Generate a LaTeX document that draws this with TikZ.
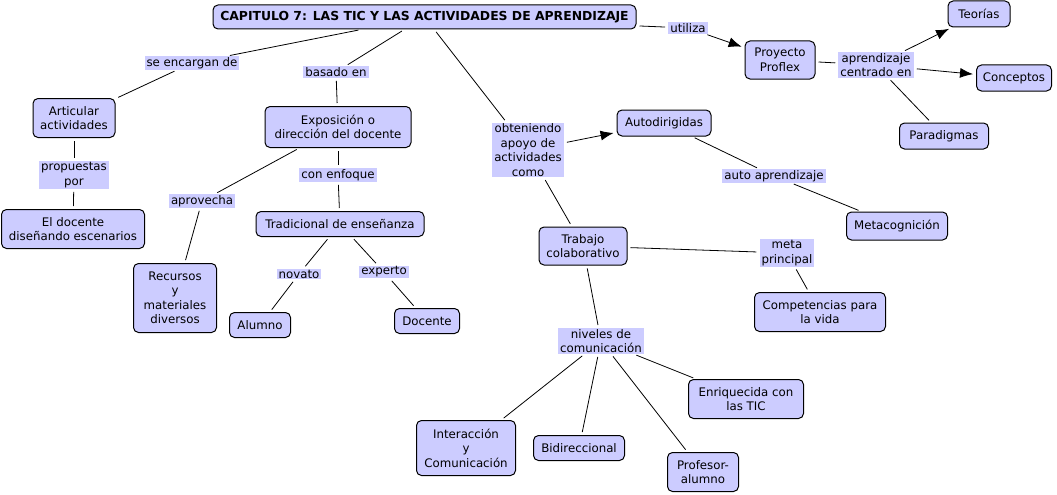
\documentclass[tikz,border=0pt]{standalone}
\usepackage{fontspec}
\setmainfont{DejaVu Sans}
\usetikzlibrary{arrows.meta}
\definecolor{conceptfill}{HTML}{CCCCFF}
\tikzset{
  concept/.style={draw, rounded corners=5pt, fill=conceptfill, align=center, inner sep=0pt, line width=1pt},
  linkword/.style={fill=conceptfill, align=center, inner xsep=2pt, inner ysep=1pt},
  link/.style={line width=0.8pt, shorten <=3pt, shorten >=3pt},
  arrowlink/.style={link, -{Latex[length=13pt,width=10pt]}}
}
\begin{document}
\begin{tikzpicture}[x=1pt,y=-1pt,font=\fontsize{11.8}{14.5}\selectfont]
    \useasboundingbox (0,0) rectangle (1057,495);

    \node[concept, minimum width=423, minimum height=24] (titulo) at (424.5,17) {\fontsize{12.4}{14.5}\selectfont\bfseries CAPITULO 7: LAS TIC Y LAS ACTIVIDADES DE APRENDIZAJE};

    \node[linkword] (utiliza) at (688,28) {utiliza};
    \node[concept, minimum width=70, minimum height=38] (proflex) at (780,60) {Proyecto\\Proflex};
    \node[linkword] (centrado) at (876,65) {aprendizaje\\centrado en};
    \node[concept, minimum width=62, minimum height=26] (teorias) at (979,14) {Teorías};
    \node[concept, minimum width=75, minimum height=26] (conceptos) at (1014,78) {Conceptos};
    \node[concept, minimum width=89, minimum height=26] (paradigmas) at (944,136) {Paradigmas};

    \node[linkword] (encargan) at (192,63) {se encargan de};
    \node[concept, minimum width=82, minimum height=39] (articular) at (74,118) {Articular\\actividades};
    \node[linkword] (propuestas) at (74,175) {propuestas\\por};
    \node[concept, minimum width=143, minimum height=39] (disenando) at (73,229) {El docente\\diseñando escenarios};

    \node[linkword] (basado) at (336,72) {basado en};
    \node[concept, minimum width=146, minimum height=41] (exposicion) at (338,127) {Exposición o\\dirección del docente};
    \node[linkword] (enfoque) at (338,175) {con enfoque};
    \node[concept, minimum width=168, minimum height=25] (tradicional) at (340,224) {Tradicional de enseñanza};
    \node[linkword] (aprovecha) at (202,201) {aprovecha};
    \node[concept, minimum width=83, minimum height=69] (recursos) at (175,298) {Recursos\\y\\materiales\\diversos};
    \node[linkword] (novato) at (299,274) {novato};
    \node[concept, minimum width=61, minimum height=25] (alumno) at (260,325) {Alumno};
    \node[linkword] (experto) at (384,272) {experto};
    \node[concept, minimum width=65, minimum height=25] (docente) at (427,321) {Docente};

    \node[linkword] (obteniendo) at (528,150) {obteniendo\\apoyo de\\actividades\\como};
    \node[concept, minimum width=94, minimum height=26] (autodirigidas) at (664,123) {Autodirigidas};
    \node[linkword] (auto) at (774,176) {auto aprendizaje};
    \node[concept, minimum width=101, minimum height=28] (metacog) at (897,226) {Metacognición};
    \node[concept, minimum width=88, minimum height=38] (trabajo) at (583,246) {Trabajo\\colaborativo};
    \node[linkword] (meta) at (787,253) {meta\\principal};
    \node[concept, minimum width=131, minimum height=39] (competencias) at (820,312) {Competencias para\\la vida};
    \node[linkword] (niveles) at (601,341) {niveles de\\comunicación};
    \node[concept, minimum width=99, minimum height=55] (interaccion) at (466,448) {Interacción\\y\\Comunicación};
    \node[concept, minimum width=91, minimum height=25] (bidireccional) at (579,448) {Bidireccional};
    \node[concept, minimum width=71, minimum height=39] (profesor) at (703,472) {Profesor-\\alumno};
    \node[concept, minimum width=115, minimum height=39] (enriquecida) at (746,399) {Enriquecida con\\las TIC};

    \draw[link] (titulo) -- (utiliza);
    \draw[arrowlink] (utiliza) -- (proflex);
    \draw[link] (proflex) -- (centrado);
    \draw[arrowlink] (centrado) -- (teorias);
    \draw[arrowlink] (centrado) -- (conceptos);
    \draw[link] (centrado) -- (paradigmas);

    \draw[link] (titulo) -- (encargan);
    \draw[link] (encargan) -- (articular);
    \draw[link] (articular) -- (propuestas);
    \draw[link] (propuestas) -- (disenando);

    \draw[link] (titulo) -- (basado);
    \draw[link] (basado) -- (exposicion);
    \draw[link] (exposicion) -- (enfoque);
    \draw[link] (enfoque) -- (tradicional);
    \draw[link] (exposicion) -- (aprovecha);
    \draw[link] (aprovecha) -- (recursos);
    \draw[link] (tradicional) -- (novato);
    \draw[link] (novato) -- (alumno);
    \draw[link] (tradicional) -- (experto);
    \draw[link] (experto) -- (docente);

    \draw[link] (titulo) -- (obteniendo);
    \draw[arrowlink] (obteniendo) -- (autodirigidas);
    \draw[link] (autodirigidas) -- (auto);
    \draw[link] (auto) -- (metacog);
    \draw[link] (obteniendo) -- (trabajo);
    \draw[link] (trabajo) -- (meta);
    \draw[link] (meta) -- (competencias);
    \draw[link] (trabajo) -- (niveles);
    \draw[link] (niveles) -- (interaccion);
    \draw[link] (niveles) -- (bidireccional);
    \draw[link] (niveles) -- (profesor);
    \draw[link] (niveles) -- (enriquecida);
\end{tikzpicture}
\end{document}
